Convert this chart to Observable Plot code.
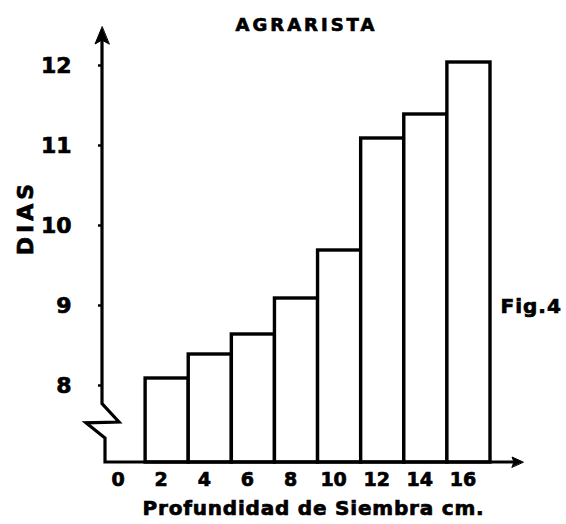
<!DOCTYPE html>
<html>
<head>
<meta charset="utf-8">
<script src="https://cdn.jsdelivr.net/npm/d3@7"></script>
<script src="https://cdn.jsdelivr.net/npm/@observablehq/plot@0.6"></script>
<style>
  html, body { margin: 0; padding: 0; background: #fff; }
  #chart svg { display: block; }
</style>
</head>
<body>
<div id="chart"></div>
<script>
// Data (Fig. 4, AGRARISTA)
const depths = [2, 4, 6, 8, 10, 12, 14, 16];          // Profundidad de Siembra (cm)
const days   = [8.05, 8.35, 8.6, 9.05, 9.65, 11.05, 11.35, 12.0]; // DIAS
const xTicks = [0, 2, 4, 6, 8, 10, 12, 14, 16];
const yTicks = [8, 9, 10, 11, 12];
const yBase = 7;
const titleText = "AGRARISTA";
const xLabel = "Profundidad de Siembra cm.";
const yLabel = "DIAS";
const figText = "Fig.4";

const rows = depths.map((d, i) => ({depth: d, days: days[i]}));

const font = "'DejaVu Sans', sans-serif";

// custom axis lines with arrows and the broken-axis zigzag
function axesMark(index, scales) {
  const x = scales.x, y = scales.y;
  const x0 = x(-1);
  const xEnd = x(17) + 31;
  const yTop = y(12.4);
  const yB = y(yBase);
  const g = d3.create("svg:g").attr("fill", "none").attr("stroke", "#000")
    .attr("stroke-width", 3.2).attr("stroke-linejoin", "miter").attr("stroke-linecap", "square");
  const brTop = y(7.73), brMid1 = y(7.5), brMid2 = y(7.49), brBot = y(7.3);
  g.append("path").attr("d",
    `M${x0},${yTop + 10} L${x0},${brTop} L${x0 + 17},${brMid1} L${x0 - 16},${brMid2} L${x0 + 3},${brBot} L${x0 + 3},${yB} L${xEnd - 6},${yB}`);
  // top arrow
  g.append("path").attr("fill", "#000").attr("stroke-width", 1)
    .attr("d", `M${x0},${yTop - 3} L${x0 - 7},${yTop + 14} L${x0},${yTop + 10} L${x0 + 7},${yTop + 14} Z`);
  // right arrow
  g.append("path").attr("fill", "#000").attr("stroke-width", 1)
    .attr("d", `M${xEnd + 2},${yB} L${xEnd - 9},${yB - 5} L${xEnd - 7},${yB} L${xEnd - 9},${yB + 5} Z`);
  return g.node();
}

const chart = Plot.plot({
  width: 566,
  height: 524,
  marginLeft: 102,
  marginRight: 76,
  marginTop: 30,
  marginBottom: 62,
  style: {fontFamily: font, fontWeight: "bold", color: "#000", background: "#fff", overflow: "visible"},
  x: {type: "linear", domain: [-1, 17]},
  y: {type: "linear", domain: [yBase, 12.4]},
  marks: [
    Plot.rectY(rows, {
      x1: d => d.depth - 1, x2: d => d.depth + 1,
      y1: () => yBase, y2: "days",
      fill: "#fff", stroke: "#000", strokeWidth: 3.4
    }),
    axesMark,
    Plot.axisY({ticks: yTicks, tickSize: 4, tickPadding: 27, label: null, tickFormat: d => String(d),
      fontSize: 22, fontWeight: "bold", dy: 3, strokeWidth: 2.5}),
    Plot.axisX({ticks: xTicks, tickSize: 0, tickPadding: 10, label: null, tickFormat: d => String(d),
      fontSize: 19, fontWeight: "bold", dx: -6}),
    Plot.text([titleText], {frameAnchor: "top", dx: 10, dy: -12, fontSize: 18, fontWeight: "bold"}),
    Plot.text([xLabel], {frameAnchor: "bottom", dx: 17, dy: 52, fontSize: 20, fontWeight: "bold"}),
    Plot.text([yLabel], {frameAnchor: "left", textAnchor: "middle", dx: -77, dy: -29, rotate: -90, fontSize: 22, fontWeight: "bold"}),
    Plot.text([figText], {frameAnchor: "top-right", textAnchor: "start", dx: 10, dy: 268, fontSize: 20, fontWeight: "bold"})
  ]
});

// letter spacing to imitate the wide lettering of the original
const spacing = {[titleText]: "3px", [xLabel]: "0.8px", [yLabel]: "4px", [figText]: "1px"};
d3.select(chart).selectAll("text").each(function() {
  const t = this.textContent;
  if (spacing[t]) this.style.letterSpacing = spacing[t];
  // heavier lettering like the hand-lettered original
  this.style.stroke = "#000";
  this.style.strokeWidth = "0.7px";
});

document.getElementById("chart").append(chart);
</script>
</body>
</html>
